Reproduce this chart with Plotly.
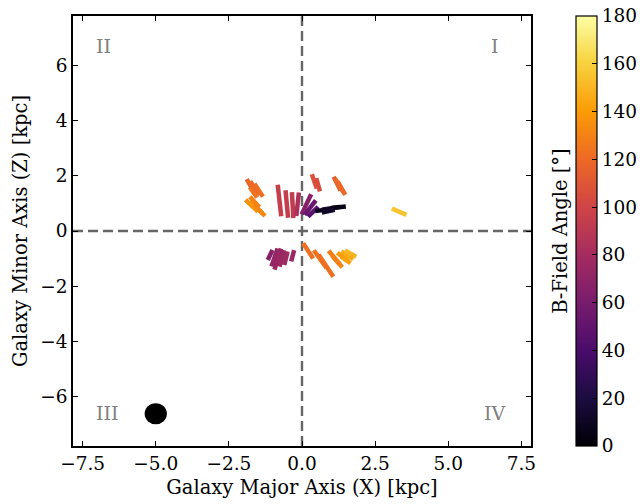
import numpy as np
import plotly.graph_objects as go
from plotly.colors import sample_colorscale

# B-field vectors: centre X, centre Z [kpc], field angle [deg], vector length [kpc]
vec_x = [-1.75, -1.62, -1.48, -1.66,
         -1.72, -1.58, -1.45, -1.62,
         -0.77, -0.52, -0.32, -0.15,
         0.15, 0.28, 0.38,
         0.72, 0.98, 1.25, 0.90,
         0.42, 0.55,
         1.20, 1.35, 1.28,
         -1.09, -0.94, -0.83, -0.69, -0.55, -0.32,
         0.21, 0.62, 0.82, 1.10, 1.20,
         1.40, 1.55, 1.66, 1.50,
         3.32]
vec_z = [1.62, 1.55, 1.48, 1.40,
         0.92, 0.85, 0.75, 1.05,
         1.11, 0.98, 0.94, 0.97,
         0.97, 0.85, 0.70,
         0.76, 0.82, 0.86, 0.72,
         1.80, 1.68,
         1.72, 1.55, 1.64,
         -0.87, -0.96, -1.02, -0.99, -0.99, -0.90,
         -0.72, -1.02, -1.26, -0.96, -1.10,
         -0.95, -0.88, -0.82, -1.05,
         0.70]
vec_ang = [118, 120, 122, 124,
           135, 138, 132, 130,
           96, 95, 93, 84,
           66, 54, 46,
           8, 10, 6, 12,
           108, 105,
           115, 118, 120,
           66, 72, 74, 75, 77, 76,
           122, 124, 122, 128, 130,
           140, 145, 150, 143,
           155]
vec_len = [0.60, 0.60, 0.55, 0.45,
           0.60, 0.60, 0.55, 0.50,
           1.15, 1.00, 0.95, 0.85,
           0.80, 0.65, 0.50,
           0.55, 0.60, 0.50, 0.45,
           0.55, 0.50,
           0.55, 0.55, 0.55,
           0.40, 0.68, 0.80, 0.62, 0.50, 0.42,
           0.65, 0.78, 0.95, 0.62, 0.55,
           0.50, 0.50, 0.45, 0.40,
           0.55]

quad_labels = ["I", "II", "III", "IV"]
quad_x = [6.6, -6.8, -6.65, 6.6]
quad_z = [6.72, 6.72, -6.6, -6.6]

beam_x, beam_z, beam_r = -5.0, -6.63, 0.38

ang_min, ang_max = 0, 180
cb_ticks = [0, 20, 40, 60, 80, 100, 120, 140, 160, 180]
x_ticks = [-7.5, -5.0, -2.5, 0.0, 2.5, 5.0, 7.5]
z_ticks = [-6, -4, -2, 0, 2, 4, 6]
lim_x = 7.83
lim_z = 7.8

font_family = "DejaVu Serif"
tick_size = 18.5
title_size = 19.5

fig = go.Figure()

# quadrant divider lines
for xs, zs in [([-lim_x, lim_x], [0, 0]), ([0, 0], [-lim_z, lim_z])]:
    fig.add_trace(go.Scatter(x=xs, y=zs, mode="lines",
                             line=dict(color="#666666", width=2.4, dash="10px,5px"),
                             hoverinfo="skip", showlegend=False))

# field vectors, coloured by angle
colors = sample_colorscale("Inferno", [(a - ang_min) / (ang_max - ang_min) for a in vec_ang])
for cx, cz, ang, ln, col in zip(vec_x, vec_z, vec_ang, vec_len, colors):
    dx = 0.5 * ln * np.cos(np.radians(ang))
    dz = 0.5 * ln * np.sin(np.radians(ang))
    fig.add_trace(go.Scatter(x=[cx - dx, cx + dx], y=[cz - dz, cz + dz], mode="lines",
                             line=dict(color=col, width=4.5),
                             showlegend=False, hoverinfo="skip"))

# colour scale reference
fig.add_trace(go.Scatter(
    x=[None], y=[None], mode="markers", showlegend=False, hoverinfo="skip",
    marker=dict(color=[ang_min], cmin=ang_min, cmax=ang_max, colorscale="Inferno",
                showscale=True,
                colorbar=dict(x=1.098, xanchor="left", y=0.5, yanchor="middle",
                              len=1.0, lenmode="fraction", thickness=21,
                              thicknessmode="pixels", outlinecolor="black", outlinewidth=1.2,
                              tickvals=cb_ticks, ticks="inside", ticklen=5,
                              tickcolor="black", tickwidth=1,
                              tickfont=dict(family=font_family, size=tick_size, color="black"),
                              xpad=0, ypad=0))))

# beam size
fig.add_shape(type="circle", xref="x", yref="y",
              x0=beam_x - beam_r, x1=beam_x + beam_r,
              y0=beam_z - beam_r, y1=beam_z + beam_r,
              fillcolor="black", line=dict(color="black", width=0))

for lab, qx, qz in zip(quad_labels, quad_x, quad_z):
    fig.add_annotation(x=qx, y=qz, text=lab, showarrow=False,
                       font=dict(family=font_family, size=19, color="#808080"))

fig.add_annotation(xref="paper", yref="paper", x=1.063, y=0.5, text="B-Field Angle [°]",
                   textangle=-90, showarrow=False, xanchor="center", yanchor="middle",
                   font=dict(family=font_family, size=title_size, color="black"))

axis_common = dict(showgrid=False, zeroline=False, showline=True, linecolor="black",
                   linewidth=1.5, mirror="ticks", ticks="inside", ticklen=5,
                   tickwidth=1.2, tickcolor="black",
                   tickfont=dict(family=font_family, size=tick_size, color="black"))

fig.update_xaxes(range=[-lim_x, lim_x], tickvals=x_ticks, tickformat=".1f",
                 title=dict(text="Galaxy Major Axis (X) [kpc]", standoff=7,
                            font=dict(family=font_family, size=title_size, color="black")),
                 **axis_common)
fig.update_yaxes(range=[-lim_z, lim_z], tickvals=z_ticks,
                 title=dict(text="Galaxy Minor Axis (Z) [kpc]", standoff=7,
                            font=dict(family=font_family, size=title_size, color="black")),
                 **axis_common)

fig.update_layout(width=640, height=504, paper_bgcolor="white", plot_bgcolor="white",
                  margin=dict(l=73, r=109, t=16, b=58, autoexpand=False), showlegend=False)

fig.write_html("out.html")
